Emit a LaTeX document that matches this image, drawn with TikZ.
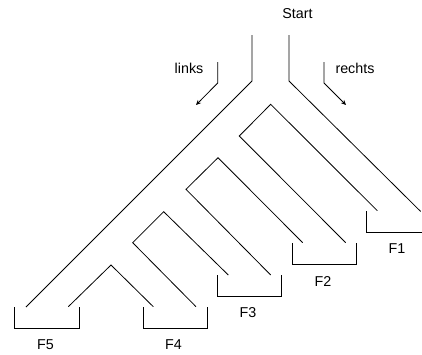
\documentclass[tikz,border=0pt]{standalone}
\usepackage{fontspec}
\setmainfont{Liberation Sans}
\usetikzlibrary{arrows.meta}
\begin{document}
\begin{tikzpicture}[x=1pt,y=-1pt,
  wall/.style={line width=0.8pt,line join=miter},
  tray/.style={line width=0.8pt},
  lbl/.style={inner sep=0pt,font=\fontsize{14.3}{16}\selectfont},
  hint/.style={line width=0.8pt,-{Stealth[length=5pt,width=4.5pt]}}]
\useasboundingbox (0,0) rectangle (422,354);
\clip (0,0) rectangle (422,354);
% entry
\node[lbl] (start) at (297.5,13.5) {Start};
\node[lbl] (links) at (189,68) {links};
\node[lbl] (rechts) at (355,68) {rechts};
% direction hints
\coordinate (la) at (217.7,62);
\coordinate (lb) at (217.7,83);
\coordinate (lc) at (196,105);
\coordinate (ra) at (324,62);
\coordinate (rb) at (324,83);
\coordinate (rc) at (346,105);
\draw[hint] (la) -- (lb) -- (lc);
\draw[hint] (ra) -- (rb) -- (rc);
% outer walls
\draw[wall] (252,35) -- (252,81) -- (26,307);
\draw[wall] (289,35) -- (289,81) -- (420.7,211.5);
% inner walls
\draw[wall] (377.3,210.7) -- (270.7,104.3) -- (239.3,136) -- (345.7,242.7);
\draw[wall] (302.7,242.7) -- (218,157.7) -- (186,189.3) -- (270.7,275);
\draw[wall] (228.3,275) -- (163.7,211.7) -- (132.7,242.7) -- (196,306.7);
\draw[wall] (68.3,306.7) -- (111,265) -- (153.3,306.7);
% collecting trays
\draw[tray] (366.7,211) -- (366.7,232) -- (431,232) -- (431,211);
\draw[tray] (292.3,243) -- (292.3,264.3) -- (356.3,264.3) -- (356.3,243);
\draw[tray] (217.3,275) -- (217.3,296) -- (281.7,296) -- (281.7,275);
\draw[tray] (143,307) -- (143,328) -- (207,328) -- (207,307);
\draw[tray] (14.7,307) -- (14.7,328.3) -- (79,328.3) -- (79,307);
% tray labels
\node[lbl] (f1) at (397,248.7) {F1};
\node[lbl] (f2) at (323,281) {F2};
\node[lbl] (f3) at (248,312.7) {F3};
\node[lbl] (f4) at (173.5,345) {F4};
\node[lbl] (f5) at (45.5,345) {F5};
\end{tikzpicture}
\end{document}
